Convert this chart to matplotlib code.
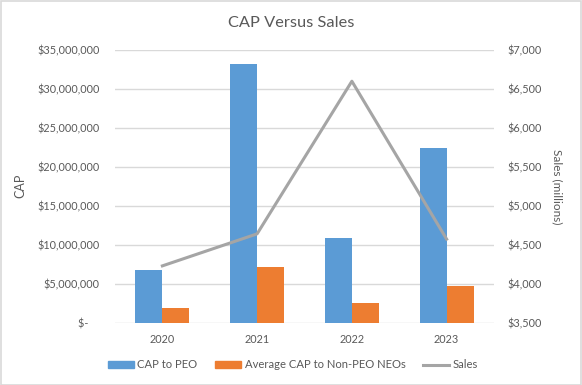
import matplotlib
matplotlib.use("Agg")
import matplotlib.pyplot as plt
import numpy as np
from matplotlib.ticker import FuncFormatter
from matplotlib.patches import Rectangle, Patch
from matplotlib.lines import Line2D

years = ["2020", "2021", "2022", "2023"]
cap_peo = [6.8e6, 33.2e6, 10.85e6, 22.4e6]
cap_neo = [1.88e6, 7.2e6, 2.52e6, 4.78e6]
sales = [4231, 4641, 6594, 4573]

BLUE = "#5B9BD5"
ORANGE = "#ED7D31"
GRAY = "#A5A5A5"
TXT = "#595959"

plt.rcParams['font.family'] = ['Lato', 'DejaVu Sans']

fig = plt.figure(figsize=(5.82, 3.85), dpi=100)
ax = fig.add_axes([115/582, 1-323/385, (494-115)/582, (323-49.5)/385])
x = np.arange(len(years))
w = 0.285
ax.bar(x - w/2, cap_peo, w, color=BLUE, zorder=2)
ax.bar(x + w/2, cap_neo, w, color=ORANGE, zorder=2)
ax.set_xlim(-0.5, 3.5)
ax.set_ylim(0, 35e6)
ax.set_yticks(np.arange(0, 35e6 + 1, 5e6))

def fmt_left(v, p):
    if v == 0:
        return "$-    "
    return "${:,.0f}".format(v)
ax.yaxis.set_major_formatter(FuncFormatter(fmt_left))
ax.set_xticks(x)
ax.set_xticklabels(years)
ax.grid(axis='y', color="#D9D9D9", linewidth=1, zorder=0)
for s in ax.spines.values():
    s.set_visible(False)
ax.tick_params(axis='both', length=0, colors=TXT, labelsize=7.8)
ax.tick_params(axis='y', pad=11)
ax.tick_params(axis='x', pad=8)
ax.set_ylabel("CAP", color=TXT, fontsize=9)
ax.yaxis.set_label_coords((26-115)/379, 0.5)

ax2 = ax.twinx()
ax2.plot(x, sales, color=GRAY, linewidth=2.2, zorder=3)
ax2.set_ylim(3500, 7000)
ax2.set_yticks(np.arange(3500, 7001, 500))
ax2.yaxis.set_major_formatter(FuncFormatter(lambda v, p: "${:,.0f}".format(v)))
for s in ax2.spines.values():
    s.set_visible(False)
ax2.tick_params(axis='both', length=0, colors=TXT, labelsize=7.8)
ax2.tick_params(axis='y', pad=10)
ax2.set_ylabel("Sales (millions)", color=TXT, fontsize=8.5, rotation=270, va='center')
ax2.yaxis.set_label_coords((557-115)/379, 0.5)

fig.suptitle("CAP Versus Sales", x=0.5, y=1-23/385, va='center', color=TXT, fontsize=11.8)

handles = [Patch(color=BLUE), Patch(color=ORANGE), Line2D([0], [0], color=GRAY, lw=2.2)]
labels = ["CAP to PEO", "Average CAP to Non-PEO NEOs", "Sales"]
fig.legend(handles, labels, loc='center', bbox_to_anchor=(293/582, 1-365/385), ncol=3,
           frameon=False, fontsize=8.1, labelcolor=TXT, handlelength=2.3, handleheight=0.6,
           handletextpad=0.3, columnspacing=1.6)

fig.patches.append(Rectangle((0.001, 0.001), 0.997, 0.996, transform=fig.transFigure,
                             fill=False, edgecolor="#D9D9D9", linewidth=1.2))

fig.savefig("out.png", dpi=100, facecolor="white")
